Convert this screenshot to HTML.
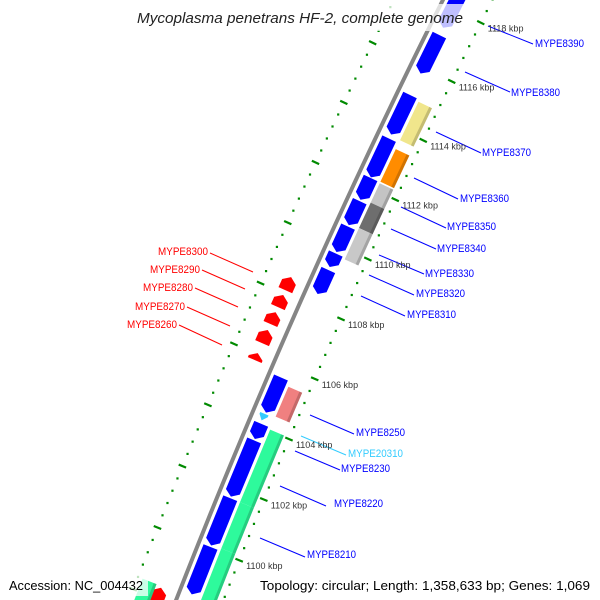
<!DOCTYPE html>
<html><head><meta charset="utf-8"><style>
html,body{margin:0;padding:0;background:#fff;width:600px;height:600px;overflow:hidden}
svg{display:block;overflow:hidden}
text{font-family:"Liberation Sans","DejaVu Sans",sans-serif}
</style></head><body>
<svg id="map" width="600" height="600" viewBox="0 0 600 600" xmlns="http://www.w3.org/2000/svg">
<g id="rulers"></g>
<g id="features"></g>
<g id="leaders"></g>
<g id="kbp"></g>
<rect x="133" y="4" width="334" height="27" fill="#fff" fill-opacity="0.75"/>
<text x="300" y="23" text-anchor="middle" font-size="15" font-style="italic" fill="#222" textLength="326" lengthAdjust="spacingAndGlyphs">Mycoplasma penetrans HF-2, complete genome</text>
<rect x="5" y="574" width="143" height="22" fill="#fff" fill-opacity="0.75"/>
<text x="9" y="590" font-size="13" fill="#000" textLength="134" lengthAdjust="spacingAndGlyphs">Accession: NC_004432</text>
<rect x="256" y="574" width="340" height="22" fill="#fff" fill-opacity="0.75"/>
<text x="260" y="590" font-size="13" fill="#000" textLength="330" lengthAdjust="spacingAndGlyphs">Topology: circular; Length: 1,358,633 bp; Genes: 1,069</text>
</svg>
<script>
// ---- data (positions in kbp) ----
const blueStarts = [1117.35,1115.8,1113.74,1112.3,1111.55,1110.7,1109.8,1109.3,1108.4,1104.47,1103.6,1101.7,1100.1,1098.5];
const blueEnds   = [1120.5,1117.1,1115.07,1113.6,1112.28,1111.5,1110.65,1109.75,1109.2,1105.63,1104.1,1103.55,1101.65,1100.05];
const cyanStarts = [1104.2];
const cyanEnds   = [1104.42];
const track2Starts = [1113.7,1112.3,1111.6,1110.75,1109.7,1104.47,1101.65,1100.13,1097.0];
const track2Ends   = [1115.0,1113.4,1112.25,1111.6,1110.75,1105.46,1104.04,1101.65,1100.13];
const track2Colors = ["#f0e68c","#ff8c00","#c4c4c4","#6e6e6e","#c8c8c8","#f08080","#2efa9c","#2efa9c","#2efa9c"];
const redStarts = [1108.11,1107.55,1106.99,1106.36,1105.8,1097.0];
const redEnds   = [1108.54,1107.95,1107.38,1106.79,1106.03,1098.35];
const outerStarts = [1097.0];
const outerEnds   = [1098.4];
const tickRange = [1096, 1121];
const rightLabels = ["MYPE8390","MYPE8380","MYPE8370","MYPE8360","MYPE8350","MYPE8340","MYPE8330","MYPE8320","MYPE8310","MYPE8250","MYPE20310","MYPE8230","MYPE8220","MYPE8210"];
const leftLabels = ["MYPE8300","MYPE8290","MYPE8280","MYPE8270","MYPE8260"];

// ---- geometry (layout, not data) ----
const NS="http://www.w3.org/2000/svg";
const CX=6814, CY=3192, RB=7126, A0=204.2, K0=1109, DEG_PER_KBP=360/1358.633;
function ang(k){return (A0+(k-K0)*DEG_PER_KBP)*Math.PI/180;}
function pt(k,d){const a=ang(k);return [CX+(RB+d)*Math.cos(a), CY+(RB+d)*Math.sin(a)];}
function P(arr){return arr.map(p=>p[0].toFixed(2)+","+p[1].toFixed(2)).join(" ");}
function mk(tag,attrs,parent){const e=document.createElementNS(NS,tag);for(const k in attrs)e.setAttribute(k,attrs[k]);parent.appendChild(e);return e;}
const HEAD=0.16;
function shape(k1,k2,d1,d2,dir){
  const m=(d1+d2)/2, h=Math.min(HEAD,(k2-k1));
  if(dir<0) return [pt(k2,d1),pt(k2,d2),pt(k1+h,d2),pt(k1,m),pt(k1+h,d1)];
  if(dir>0) return [pt(k1,d1),pt(k1,d2),pt(k2-h,d2),pt(k2,m),pt(k2-h,d1)];
  return [pt(k1,d1),pt(k2,d1),pt(k2,d2),pt(k1,d2)];
}
const rulers=document.getElementById('rulers');
const feats=document.getElementById('features');
const leaders=document.getElementById('leaders');
const kbpG=document.getElementById('kbp');

{const pts=[];for(let k=tickRange[0];k<=tickRange[1];k+=0.5)pts.push(pt(k,0));
const bb=mk('polyline',{points:P(pts),fill:'none',stroke:'#858585','stroke-width':4},feats);

}

for(let i=0;;i++){
  const k=tickRange[0]+i*0.4; if(k>tickRange[1])break;
  const major=Math.abs(k/2-Math.round(k/2))<1e-6;
  [-44,44].forEach(d=>{
    if(major){
      const a=pt(k,d-4),b=pt(k,d+4);
      const l=mk('line',{x1:a[0],y1:a[1],x2:b[0],y2:b[1],stroke:'#008a00','stroke-width':2.2},rulers);
      
      
    } else {
      const c=pt(k,d);
      const r=mk('rect',{x:c[0]-1,y:c[1]-1,width:2.2,height:2.2,fill:'#008a00'},rulers);
      
      
    }
  });
  if(major && k>=1100 && k<=1118){
    const c=pt(k,-44);
    const t=mk('text',{x:c[0]+7,y:c[1]+9,'font-size':9,fill:'#333'},kbpG);
    t.textContent=Math.round(k)+" kbp";
    
    
  }
}

function drawSet(starts,ends,d1,d2,dir,colors,name){
  for(let i=0;i<starts.length;i++){
    const col=Array.isArray(colors)?colors[i]:colors;
    const g=mk('g',{},feats);
    
    
    mk('polygon',{points:P(shape(starts[i],ends[i],d1,d2,dir)),fill:col},g);
    const e1=d1<0?d2+3:d1, e2=d1<0?d2:d1+3;
    const s=mk('polygon',{points:P(shape(starts[i],ends[i],Math.min(e1,e2),Math.max(e1,e2),0)),fill:'#000','fill-opacity':0.18},g);
    if(dir!==0) s.setAttribute('fill-opacity',0);
  }
}
drawSet(blueStarts,blueEnds,-5,-20,-1,'#0000ff','blue-gene');
drawSet(cyanStarts,cyanEnds,-7,-16,-1,'#33ccff','cyan-gene');
drawSet(track2Starts,track2Ends,-23,-38,0,track2Colors,'feature-track2');
drawSet(redStarts,redEnds,11,26,1,'#ff0000','red-gene');
drawSet(outerStarts,outerEnds,24,39,0,'#2efa9c','outer-feature');

const rightPos=[[535,47,488,26,533,44],[511,96,465,72,510,92],[482,156,436,132,481,153],[460,202,414,178,458,199],[447,230,401,207,446,228],[437,252,391,229,436,249],[425,277,379,255,424,274],[416,297,369,275,414,295],[407,318,361,296,405,316],[356,436,310,415,354,434],[348,457,301,436,346,455],[341,472,295,451,340,470],[334,507,280,486,326,506],[307,558,260,538,305,557]];
rightLabels.forEach((s,i)=>{
  const p=rightPos[i]; const col=s==="MYPE20310"?"#33ccff":"#0000ff";
  const l=mk('line',{x1:p[2],y1:p[3],x2:p[4],y2:p[5],stroke:col,'stroke-width':1},leaders);
  
  
  const t=mk('text',{x:p[0],y:p[1],'font-size':11,fill:col,textLength:s.length>8?55:49,lengthAdjust:'spacingAndGlyphs'},leaders);
  t.textContent=s;
  
  
});
const leftPos=[[208,255,210,253,253,272],[200,273,202,270,245,289],[193,291,195,288,238,307],[185,310,187,307,230,326],[177,328,179,325,222,345]];
leftLabels.forEach((s,i)=>{
  const p=leftPos[i];
  const l=mk('line',{x1:p[2],y1:p[3],x2:p[4],y2:p[5],stroke:'#ff0000','stroke-width':1},leaders);
  
  
  const t=mk('text',{x:p[0],y:p[1],'font-size':11,fill:'#ff0000','text-anchor':'end',textLength:50,lengthAdjust:'spacingAndGlyphs'},leaders);
  t.textContent=s;
  
  
});
</script>
</body></html>
